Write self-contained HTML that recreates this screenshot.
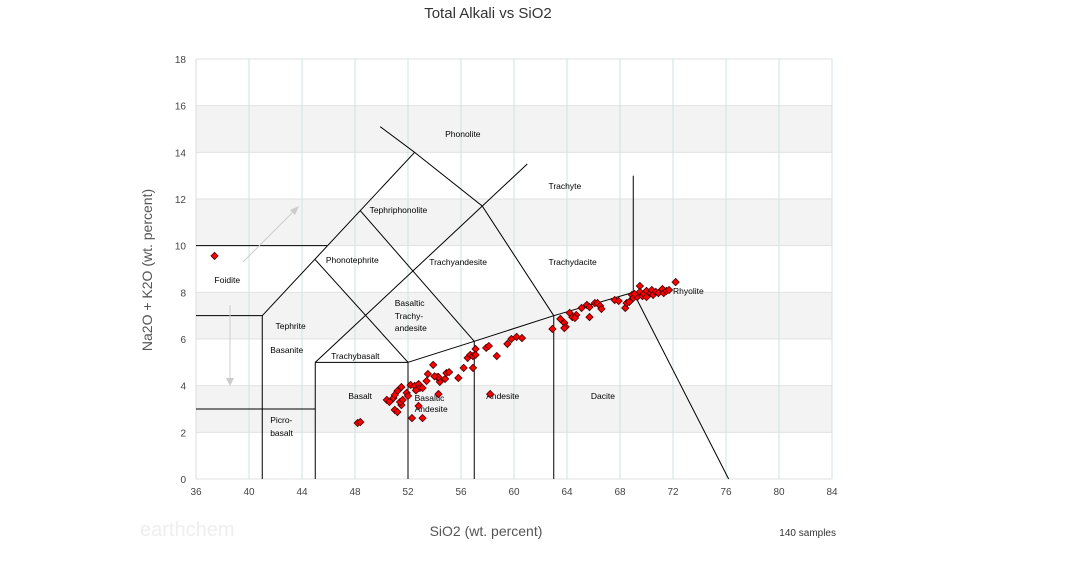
<!DOCTYPE html>
<html><head><meta charset="utf-8"><style>
body{margin:0;background:#fff;font-family:"Liberation Sans",sans-serif}
</style></head><body>
<svg id="chart" width="1065" height="558" xmlns="http://www.w3.org/2000/svg" font-family="Liberation Sans, sans-serif">
<text x="488" y="18" text-anchor="middle" font-size="15" fill="#333">Total Alkali vs SiO2</text>
<g id="grid"></g>
<g id="fields"></g>
<g id="labels" font-size="8.5" fill="#000"></g>
<g id="pts"></g>
<g id="axes" font-size="10" fill="#444"></g>
<text x="486" y="536" text-anchor="middle" font-size="14" fill="#555">SiO2 (wt. percent)</text>
<text transform="translate(152,270) rotate(-90)" text-anchor="middle" font-size="14" fill="#555">Na2O + K2O (wt. percent)</text>
<text x="836" y="536" text-anchor="end" font-size="10" fill="#333">140 samples</text>
<text x="140" y="536" font-size="20" fill="#eee">earthchem</text>
</svg>
<script>
const xTicks=[36,40,44,48,52,56,60,64,68,72,76,80,84];
const yTicks=[0,2,4,6,8,10,12,14,16,18];
const silica=[37.4,48.2,48.4,50.4,50.6,50.9,51.0,51.2,51.2,51.5,51.5,51.4,51.6,51.9,52.0,52.2,52.5,52.8,52.9,53.1,52.8,53.1,52.3,53.5,53.9,54.2,54.4,54.3,54.8,54.9,55.1,54.3,55.8,56.2,56.5,56.7,56.9,57.1,56.9,57.1,57.9,58.1,58.7,59.5,59.8,60.2,60.6,58.2,
62.9,63.5,63.8,63.9,63.8,64.2,64.4,64.7,64.6,65.1,65.5,65.7,65.7,66.1,66.3,66.5,66.6,67.6,67.9,68.4,68.5,68.7,68.9,69.0,69.3,69.5,69.5,69.7,69.8,70.0,70.0,70.3,70.4,70.5,70.7,70.9,71.2,71.3,71.5,71.7,72.2,69.1,51.0,52.6,53.4,54.0];
const alkali=[9.56,2.40,2.44,3.39,3.30,3.47,2.96,2.87,3.77,3.94,3.17,3.30,3.39,3.69,3.56,4.03,3.99,4.07,3.90,3.90,3.13,2.61,2.61,4.50,4.89,4.37,4.16,4.37,4.29,4.54,4.58,3.64,4.33,4.76,5.19,5.32,5.27,5.57,4.76,5.32,5.62,5.70,5.27,5.79,6.00,6.09,6.04,3.64,
6.43,6.86,6.69,6.52,6.47,7.12,6.94,7.03,6.90,7.33,7.46,6.94,7.37,7.54,7.54,7.42,7.29,7.67,7.63,7.33,7.54,7.59,7.89,7.76,7.80,8.27,8.02,7.84,7.93,8.06,7.80,7.97,8.10,7.89,8.02,7.97,8.14,7.97,8.06,8.10,8.44,7.93,3.60,3.80,4.20,4.40];
const boundaries=[
[[36,10],[45.9,10]],[[36,7],[41,7]],[[36,3],[45,3]],[[41,0],[41,7]],[[45,0],[45,5]],[[45,5],[52,5]],[[52,0],[52,5]],
[[52,5],[57,5.9],[63,7],[69,8]],[[57,0],[57,5.9]],[[63,0],[63,7]],[[41,7],[52.5,14],[49.9,15.1]],
[[52.5,14],[57.6,11.7],[63,7]],[[45,5],[61,13.5]],[[45,9.4],[52,5]],[[48.4,11.5],[57,5.9]],
[[69,8],[69,13]],[[69,8],[76.2,0]]];
const fieldNames=["Phonolite","Trachyte","Tephriphonolite","Foidite","Phonotephrite","Trachyandesite","Trachydacite","Rhyolite","Basaltic","Trachy-","andesite","Tephrite","Basanite","Trachybasalt","Basalt","Basaltic","Andesite","Andesite","Dacite","Picro-","basalt"];
const fieldX=[54.8,62.6,49.1,37.4,45.8,53.6,62.6,72.0,51.0,51.0,51.0,42.0,41.6,46.2,47.5,52.5,52.5,57.9,65.8,41.6,41.6];
const fieldY=[14.66,12.43,11.4,8.4,9.26,9.17,9.17,7.93,7.42,6.86,6.34,6.43,5.4,5.14,3.43,3.34,2.87,3.43,3.43,2.4,1.84];
const X0=196,X1=832,Y0=479,Y1=59;
const sx=v=>X0+(v-36)/48*(X1-X0), sy=v=>Y0-(v/18)*(Y0-Y1);
const NS="http://www.w3.org/2000/svg";
function mk(tag,attrs,parent){const e=document.createElementNS(NS,tag);for(const k in attrs)e.setAttribute(k,attrs[k]);parent.appendChild(e);return e;}
const grid=document.getElementById('grid');
for(let v=2;v<18;v+=4){const r=mk('rect',{x:X0,y:sy(v+2),width:X1-X0,height:sy(v)-sy(v+2),fill:'#f3f3f3'},grid);

}
yTicks.forEach(v=>{const l=mk('line',{x1:X0,x2:X1,y1:sy(v),y2:sy(v),stroke:'#e2e2e2'},grid);

});
xTicks.forEach(v=>{const l=mk('line',{x1:sx(v),x2:sx(v),y1:Y1,y2:Y0,stroke:v==36?'#ddd':'#cfe3e3'},grid);

});
const f=document.getElementById('fields');
boundaries.forEach(b=>{const p=mk('polyline',{points:b.map(q=>sx(q[0])+','+sy(q[1])).join(' '),fill:'none',stroke:'#000','stroke-width':1},f);

});
const a1=mk('line',{x1:243,y1:262,x2:296,y2:209,stroke:'#ccc'},f);


const h1=mk('polygon',{points:'299,206 290,210 295,215',fill:'#ccc'},f);


const a2=mk('line',{x1:230,y1:305,x2:230,y2:380,stroke:'#ccc'},f);


const h2=mk('polygon',{points:'230,386 226,378 234,378',fill:'#ccc'},f);


const lg=document.getElementById('labels');
fieldNames.forEach((n,i)=>{const t=mk('text',{x:sx(fieldX[i]),y:sy(fieldY[i])},lg);t.textContent=n;

});
const pg=document.getElementById('pts');
silica.forEach((v,i)=>{const x=sx(v),y=sy(alkali[i]);
const d=mk('polygon',{points:`${x},${y-3.6} ${x+3.6},${y} ${x},${y+3.6} ${x-3.6},${y}`,fill:'#f00',stroke:'#400','stroke-width':0.8},pg);

});
const ax=document.getElementById('axes');
xTicks.forEach(v=>{const t=mk('text',{x:sx(v),y:Y0+16,'text-anchor':'middle'},ax);t.textContent=v;

});
yTicks.forEach(v=>{const t=mk('text',{x:X0-10,y:sy(v)+4,'text-anchor':'end'},ax);t.textContent=v;

});
</script>
</body></html>
